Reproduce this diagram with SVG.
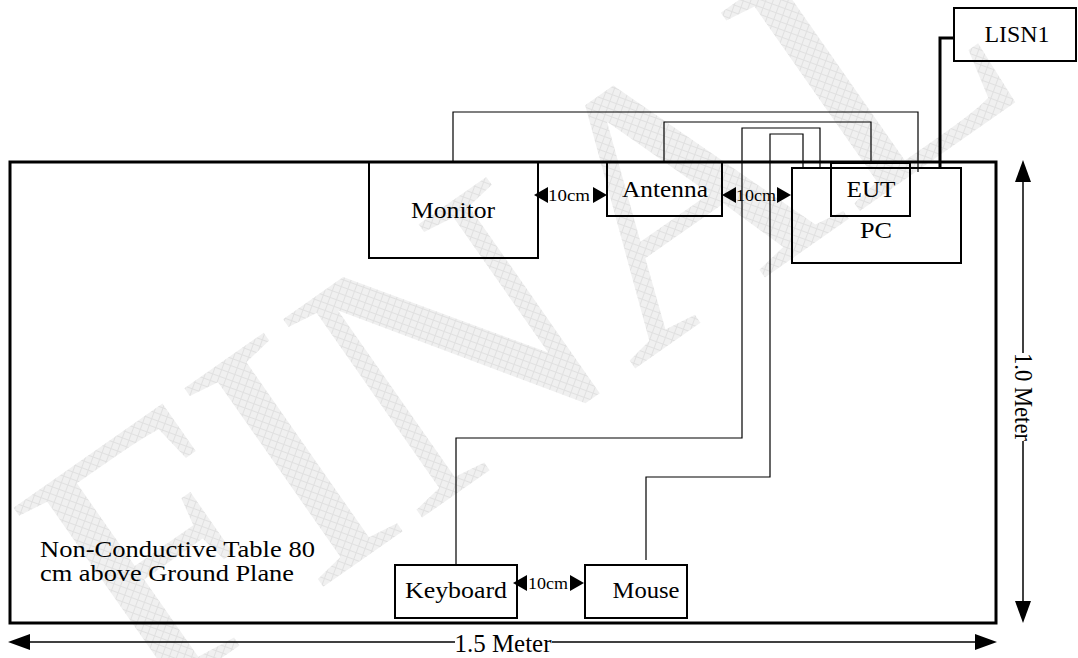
<svg xmlns="http://www.w3.org/2000/svg" width="1078" height="658" viewBox="0 0 1078 658">
<style>
.box{fill:none;stroke:#000;stroke-width:2}
.wire{fill:none;stroke:#000;stroke-width:1.2}
.t{font-family:"Liberation Serif","Times New Roman",serif;fill:#000}
.lbl{font-size:24px;text-anchor:middle}
.cm{font-size:17px;text-anchor:middle}
.dim{fill:none;stroke:#000;stroke-width:1.5}
</style>
<defs>
<pattern id="hatch" width="7" height="7" patternUnits="userSpaceOnUse" patternTransform="rotate(-35)">
<rect width="7" height="7" fill="#f0f0f0"/>
<path d="M0,0.5H7M0.5,0V7" stroke="#e0e0e0" stroke-width="1"/>
</pattern>
<path id="hs" d="M0,0 L14,-8 L14,8 Z" fill="#000"/>
<path id="hb" d="M0,0 L22,-8 L22,8 Z" fill="#000"/>
</defs>
<rect width="1078" height="658" fill="#fff"/>
<g id="watermark">
<text class="t" transform="translate(590,400) rotate(-35)" font-size="370" text-anchor="middle" style="fill:url(#hatch)">FINAL</text>
</g>
<g id="table">
<rect x="10" y="162" width="986" height="461" fill="none" stroke="#000" stroke-width="3"/>
<text class="t" x="40" y="557" font-size="23" textLength="275" lengthAdjust="spacingAndGlyphs">Non-Conductive Table 80</text>
<text class="t" x="40" y="581" font-size="23" textLength="254" lengthAdjust="spacingAndGlyphs">cm above Ground Plane</text>
</g>
<g id="connectors">
<polyline class="wire" points="453,162 453,112 918,112 918,172"/>
<polyline class="wire" points="664,162 664,122 871,122 871,163"/>
<polyline class="wire" points="456,565 456,438 742,438 742,128 820,128 820,168"/>
<polyline class="wire" points="646,560 646,477 770,477 770,134 803,134 803,168"/>
<polyline fill="none" stroke="#000" stroke-width="3" points="954,38 940,38 940,167"/>
</g>
<g id="monitor">
<rect class="box" x="369" y="162" width="169" height="96"/>
<text class="t lbl" x="453" y="218" textLength="84" lengthAdjust="spacingAndGlyphs">Monitor</text>
</g>
<g id="antenna">
<rect class="box" x="607" y="162" width="115" height="54"/>
<text class="t lbl" x="665" y="197" textLength="86" lengthAdjust="spacingAndGlyphs">Antenna</text>
</g>
<g id="pc">
<rect class="box" x="792" y="168" width="169" height="95"/>
<text class="t lbl" x="876" y="238" textLength="32" lengthAdjust="spacingAndGlyphs">PC</text>
</g>
<g id="eut">
<rect class="box" x="831" y="163" width="79" height="53"/>
<text class="t lbl" x="871" y="197" textLength="49" lengthAdjust="spacingAndGlyphs">EUT</text>
</g>
<g id="lisn1">
<rect class="box" x="954" y="8" width="122" height="53"/>
<text class="t" x="1017" y="42" font-size="23" text-anchor="middle" textLength="65" lengthAdjust="spacingAndGlyphs">LISN1</text>
</g>
<g id="keyboard">
<rect class="box" x="395" y="565" width="122" height="53"/>
<text class="t lbl" x="456" y="598" textLength="102" lengthAdjust="spacingAndGlyphs">Keyboard</text>
</g>
<g id="mouse">
<rect class="box" x="585" y="565" width="102" height="53"/>
<text class="t lbl" x="646" y="598" textLength="67" lengthAdjust="spacingAndGlyphs">Mouse</text>
</g>
<g id="spacing">
<use href="#hs" x="534" y="195"/>
<use href="#hs" transform="translate(607,195) scale(-1,1)"/>
<text class="t cm" x="569" y="201" textLength="42" lengthAdjust="spacingAndGlyphs">10cm</text>
<use href="#hs" x="722" y="195"/>
<use href="#hs" transform="translate(791,195) scale(-1,1)"/>
<text class="t cm" x="756" y="201" textLength="40" lengthAdjust="spacingAndGlyphs">10cm</text>
<use href="#hs" x="513" y="583"/>
<use href="#hs" transform="translate(584,583) scale(-1,1)"/>
<text class="t cm" x="548" y="589" textLength="40" lengthAdjust="spacingAndGlyphs">10cm</text>
</g>
<g id="dimensions">
<line class="dim" x1="25" y1="642" x2="455" y2="642"/>
<line class="dim" x1="552" y1="642" x2="980" y2="642"/>
<use href="#hb" x="8" y="642"/>
<use href="#hb" transform="translate(997,642) scale(-1,1)"/>
<text class="t" x="503" y="652" font-size="26" text-anchor="middle" textLength="97" lengthAdjust="spacingAndGlyphs">1.5 Meter</text>
<line class="dim" x1="1023" y1="178" x2="1023" y2="353"/>
<line class="dim" x1="1023" y1="441" x2="1023" y2="605"/>
<use href="#hb" transform="translate(1023,160) rotate(90)"/>
<use href="#hb" transform="translate(1023,623) rotate(-90)"/>
<text class="t" transform="translate(1023,397) rotate(90)" x="0" y="8" font-size="26" text-anchor="middle" textLength="88" lengthAdjust="spacingAndGlyphs">1.0 Meter</text>
</g>
</svg>
